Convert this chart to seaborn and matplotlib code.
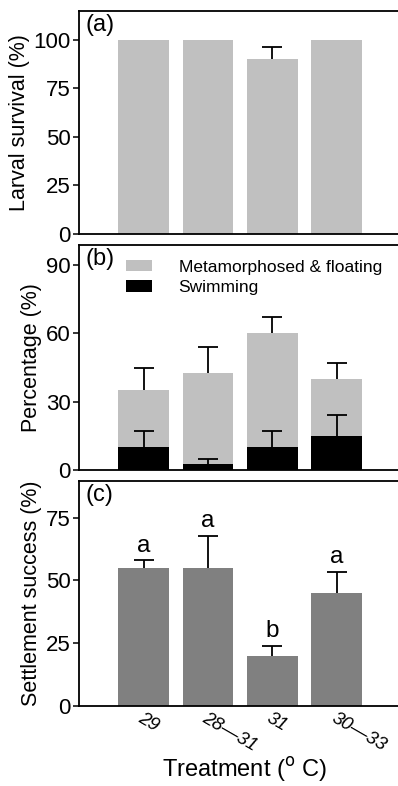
import matplotlib
matplotlib.use("Agg")
import matplotlib.pyplot as plt
import seaborn as sns
import numpy as np
import pandas as pd
from matplotlib.patches import Patch

# ---- data ----
treatments = ["29", "28\u201431", "31", "30\u201433"]
survival = [100, 100, 90, 100]
survival_err = [0, 0, 6, 0]
meta_float_total = [35, 42.5, 60, 40]
meta_float_err = [9.7, 11.7, 7, 7]
swimming = [10, 2.5, 10, 15]
swimming_err = [7, 2.3, 7, 9]
settlement = [55, 55, 20, 45]
settlement_err = [3, 12.7, 4, 8.5]
sig_letters = ["a", "a", "b", "a"]

sns.set_theme(style="ticks")
plt.rcParams["font.family"] = ["Liberation Sans", "DejaVu Sans"]
plt.rcParams["text.color"] = "black"
plt.rcParams["axes.labelcolor"] = "black"
plt.rcParams["xtick.color"] = "black"
plt.rcParams["ytick.color"] = "black"

LIGHT = "#c0c0c0"
DARK = "#808080"

fig = plt.figure(figsize=(3.98, 7.86), dpi=100)
W, H = 398, 786
def axrect(top, bottom, left=79.3, right=398):
    return [left / W, 1 - bottom / H, (right - left) / W, (bottom - top) / H]

ax_a = fig.add_axes(axrect(11, 234))
ax_b = fig.add_axes(axrect(245, 470))
ax_c = fig.add_axes(axrect(481, 706))

TICK_FS = 16
YLAB_FS = 15.5
PANEL_FS = 17

def style(ax, ylim, yticks):
    ax.set_xlim(-1, 3.95)
    ax.set_ylim(*ylim)
    ax.set_yticks(yticks)
    for s in ["left", "bottom", "top"]:
        ax.spines[s].set_visible(True)
        ax.spines[s].set_linewidth(1.3)
        ax.spines[s].set_color("black")
    ax.spines["right"].set_visible(False)
    ax.tick_params(axis="y", direction="out", length=4, width=1.1, labelsize=TICK_FS, pad=2,
                   colors="black", labelcolor="black")
    ax.tick_params(axis="x", length=0, labelcolor="black")
    ax.set_xlabel("")

def upper_err(ax, vals, err, cap_pts=15):
    x = np.arange(len(vals))
    v = np.asarray(vals, float)
    e = np.asarray(err, float)
    m = e > 0
    ax.vlines(x[m], v[m], v[m] + e[m], colors="black", linewidth=1.3, zorder=5)
    ax.plot(x[m], v[m] + e[m], linestyle="none", marker="_", markersize=cap_pts,
            markeredgewidth=1.3, color="black", zorder=5)

def bars(ax, df, y, color):
    sns.barplot(data=df, x="t", y=y, color=color, width=0.79, saturation=1, ax=ax,
                errorbar=None, linewidth=0, edgecolor="none")

# (a)
df = pd.DataFrame({"t": treatments, "v": survival})
bars(ax_a, df, "v", LIGHT)
upper_err(ax_a, survival, survival_err)
style(ax_a, (0, 114.7), [0, 25, 50, 75, 100])
ax_a.set_xticklabels([])
ax_a.set_ylabel("Larval survival (%)", fontsize=YLAB_FS, labelpad=3, color="black")
ax_a.text(0.02, 0.985, "(a)", transform=ax_a.transAxes, fontsize=PANEL_FS, va="top", ha="left", color="black")

# (b)
dfb = pd.DataFrame({"t": treatments, "tot": meta_float_total, "sw": swimming})
bars(ax_b, dfb, "tot", LIGHT)
bars(ax_b, dfb, "sw", "black")
upper_err(ax_b, meta_float_total, meta_float_err)
upper_err(ax_b, swimming, swimming_err)
style(ax_b, (0, 98.8), [0, 30, 60, 90])
ax_b.set_xticklabels([])
ax_b.set_ylabel("Percentage (%)", fontsize=YLAB_FS, labelpad=3, color="black")
ax_b.text(0.02, 0.985, "(b)", transform=ax_b.transAxes, fontsize=PANEL_FS, va="top", ha="left", color="black")
handles = [Patch(facecolor=LIGHT, edgecolor="none", label="Metamorphosed & floating"),
           Patch(facecolor="black", edgecolor="none", label="Swimming")]
leg = ax_b.legend(handles=handles, loc="upper left", bbox_to_anchor=(0.148, 0.935), frameon=False,
                  fontsize=12.5, handlelength=1.45, handleheight=0.65, handletextpad=1.55,
                  labelspacing=0.3, borderaxespad=0, borderpad=0)
for t in leg.get_texts():
    t.set_color("black")

# (c)
dfc = pd.DataFrame({"t": treatments, "v": settlement})
bars(ax_c, dfc, "v", DARK)
upper_err(ax_c, settlement, settlement_err)
style(ax_c, (0, 89.6), [0, 25, 50, 75])
ax_c.set_ylabel("Settlement success (%)", fontsize=YLAB_FS, labelpad=3, color="black")
ax_c.text(0.02, 0.985, "(c)", transform=ax_c.transAxes, fontsize=PANEL_FS, va="top", ha="left", color="black")
for i, (v, e, l) in enumerate(zip(settlement, settlement_err, sig_letters)):
    ax_c.text(i, v + e + 1.5, l, ha="center", va="bottom", fontsize=17.5, color="black")
ax_c.set_xticks(range(4))
ax_c.set_xticklabels(treatments, rotation=-30, ha="left", rotation_mode="anchor",
                     fontsize=13.5, style="italic", color="black")
ax_c.tick_params(axis="x", pad=3)
ax_c.set_xlabel("Treatment ($^{\\mathrm{o}}$ C)", fontsize=17, color="black")
ax_c.xaxis.set_label_coords(0.52, -0.218)

fig.savefig("out.png", dpi=100)
